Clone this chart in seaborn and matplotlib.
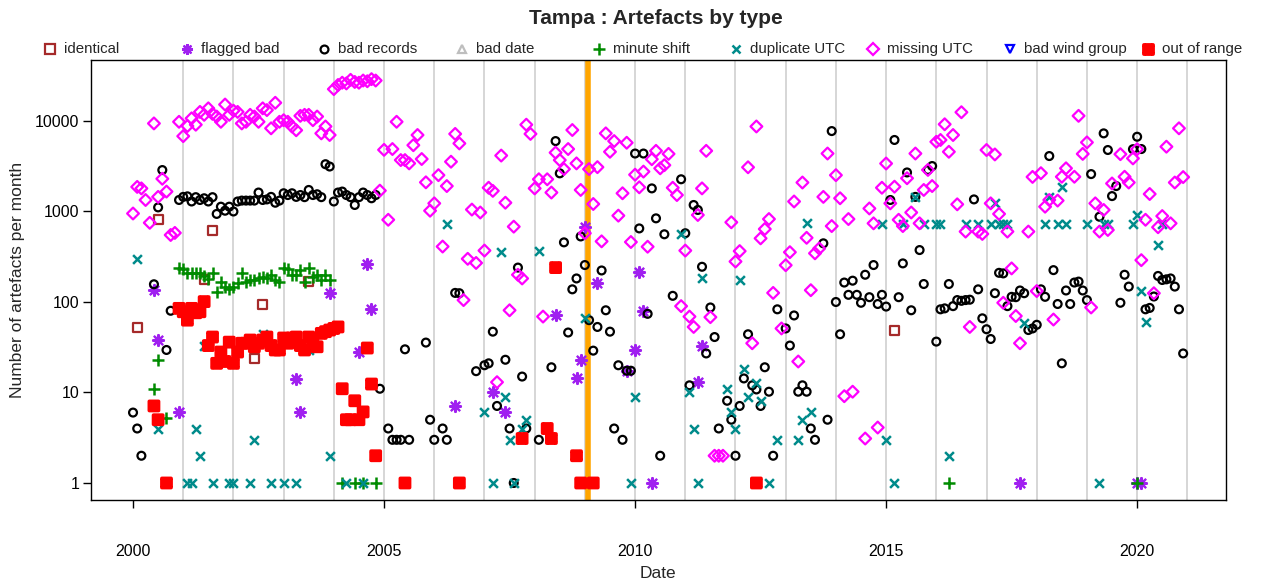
import numpy as np
import pandas as pd
import matplotlib
matplotlib.use("Agg")
import matplotlib.pyplot as plt
import seaborn as sns
from matplotlib.path import Path
from matplotlib.lines import Line2D

N = None

# ---------------- data (monthly values) ----------------
# dense series: one row of 12 monthly values per year, starting in 2000
missing_utc = [
    [950, 1870, 1800, 1340, 750, 9400, 1450, 2300, 1660, 550, 580, 9800],
    [6800, 8800, 10700, 9100, 12600, 11700, 13800, 12000, 11200, 9800, 15200, 11700],
    [13000, 12600, 9400, 9800, 11700, 11200, 9800, 13800, 13200, 8300, 15900, 9800],
    [10200, 9800, 8700, 7900, 11400, 11700, 11700, 10200, 11200, 7300, 8700, 7000],
    [22500, 25000, 26500, 26000, 28500, 27000, 26500, 28000, 27500, 29000, 28000, 1700],
    [4800, 810, 4900, 9800, 3700, 3700, 3400, 5400, 7000, 3800, 2100, 1020],
    [1230, 2520, 410, 1910, 3550, 7200, 5650, 105, 300, 1050, 270, 975],
    [370, 1830, 1690, 13, 4150, 1250, 81, 680, 200, 182, 9100, 7200],
    [1800, 2270, 69, 2270, 1620, 4470, 3700, 2940, 4900, 7950, 3400, 1730],
    [575, 2940, 1210, 3090, 468, 7300, 4570, 6000, 900, 1590, 5750, 460],
    [2550, 1850, 2760, 408, 3780, 4680, 3000, 3250, 4330, 1830, 1520, 90],
    [370, 69, 53, 915, 1800, 4680, 68, 2, 2, 2, N, 760],
    [280, 365, N, 3080, 35, 8700, 505, 640, 825, 126, N, 51],
    [255, 355, 1290, 22, 2090, 512, 135, 345, 390, 1450, 4370, 690],
    [2520, 1400, 9.1, 825, 10.2, N, N, 3.1, 1080, 740, 4.1, 1830],
    [3390, 1230, 1880, 810, 690, 2330, 975, 4370, 740, 1730, 2880, 1910],
    [5890, 6170, 9200, 4570, 7000, 1200, 12500, 600, 53, N, 600, 565],
    [4780, 1230, 4270, 940, 98, 600, 235, 70, 35, N, 600, 2410],
    [132, 2650, 1130, 1340, 64, 1320, 2420, 3000, N, 2420, 11400, 4330],
    [5800, 87, 1230, 600, 1040, 625, 2040, N, 4300, 2420, 2090, 3860],
    [4880, 290, 810, 1560, 125, 670, 890, 5200, 740, 2090, 8300, 2400],
]

bad_records = [
    [6, 4, 2, N, N, 157, 1110, 2870, 29.5, 80, N, 1340],
    [1450, 1470, 1290, 1440, 1340, 1400, 1290, 1440, 940, 1130, 1020, 1130],
    [1000, 1290, 1320, 1320, 1320, 1320, 1620, 1340, 1360, 1450, 1250, 1320],
    [1590, 1520, 1590, 1450, 1520, 1440, 1730, 1520, 1550, 1440, 3330, 3140],
    [1290, 1620, 1660, 1520, 1440, 1180, 1440, 1620, 1520, 1400, 1520, 11],
    [N, 4, 3, 3, 3, 30, 3, N, N, N, 35.6, 5],
    [3, N, 4, 3, N, 126, 125, N, N, N, 17.2, N],
    [20, 21, 47, 7.1, N, 23, 4, 1, 240, 15, 4, N],
    [N, 3, N, N, 19, 6000, 2640, 456, 46, 138, 182, 530],
    [256, 63, 29, 53, 223, 81, 47, 4, 20, 3, 17.4, 17.4],
    [4370, 650, 4370, 74, 1800, 840, 2, 560, N, 117, N, 2270],
    [575, 12, 1180, 1040, 245, 27, 87, 41, 4, N, 8.1, 5],
    [2, 7.1, 14.3, 44, 12, 10.8, 7.1, 19, 10.2, 2, 83, N],
    [51, 33, 71, 10.2, 12, 10.2, 4, 3, N, 445, 5, 7740],
    [100, 44, 164, 120, 172, 120, 98, 200, 113, 256, 95, 120],
    [89, 1340, 6170, 113, 267, 2700, 81, 1450, 375, 158, 2880, 3180],
    [36.5, 83, 85, 158, 90, 105, 103, 105, 106, 1360, 138, 66],
    [50, 39, 125, 210, 207, 90, 114, 113, 134, 125, 49, 51],
    [56, 138, 114, 4100, 225, 95, 21, 134, 95, 164, 168, 134],
    [105, 2590, N, 875, 7300, 4780, 1480, 1910, 98, 200, 148, 4880],
    [6700, 4900, 83, 86, 115, 194, 175, 178, 182, 148, 83, 27],
]

minute_shift = [
    [N, N, N, N, N, 11, 23, N, 5.2, N, N, 235],
    [229, 210, 207, 210, 207, 195, 178, 207, 130, 167, 148, 138],
    [148, 163, 207, 167, 175, 175, 182, 190, 182, 198, 175, 167],
    [235, 229, 198, 198, 225, 167, 240, 190, 198, 175, 198, 175],
    [N, N, 1, N, N, 1, N, 1, N, N, 1, N],
]
minute_shift_extra_dates = ["2016-04", "2020-01"]
minute_shift_extra_vals = [1, 1]

out_of_range = [
    [N, N, N, N, N, 7.1, 5, N, 1, N, N, 85],
    [78, 63, 85, 76, 78, 101, 33, 41, 21, 28, 22, 36],
    [21, 28, 35, 35, 38, 32, 35, 38, 41, 33, 29.5, 29.5],
    [40, 35, 40, 41, 33, 29.5, 41, 35, 32, 45, 47, 49],
    [51, 53, 11, 5, 5, 8.1, 5, 6.1, 31, 12.4, 2, N],
]
out_of_range_extra_dates = ["2005-06", "2006-07", "2007-10", "2008-04", "2008-05",
                            "2008-06", "2008-11", "2008-12", "2009-03", "2012-06"]
out_of_range_extra_vals = [1, 1, 3.1, 4, 3.1, 240, 2, 1, 1, 1]

# sparse series
identical_dates = ["2000-02", "2000-07", "2001-06", "2001-08", "2002-06", "2002-08",
                   "2003-07", "2015-03"]
identical_vals = [52, 815, 178, 615, 24, 94, 167, 48]

flagged_bad_dates = ["2000-06", "2000-07", "2000-12", "2003-04", "2003-05", "2003-12",
                     "2004-07", "2004-09", "2004-10", "2006-06", "2007-03", "2007-06",
                     "2008-06", "2008-11", "2008-12", "2009-01", "2009-04", "2009-11",
                     "2010-01", "2010-02", "2010-03", "2010-05", "2011-04", "2011-05",
                     "2017-09", "2020-01", "2020-02"]
flagged_bad_vals = [135, 38, 6.1, 14, 6.1, 126, 28, 263, 83, 7.1, 10.2, 6.1,
                    72, 14.4, 23, 675, 162, 17.4, 29.5, 215, 80, 1, 13.2, 33,
                    1, 1, 1]

duplicate_utc_dates = ["2000-02", "2000-07", "2001-02", "2001-03", "2001-04", "2001-05",
                       "2001-06", "2001-08", "2001-12", "2002-01", "2002-05", "2002-06",
                       "2002-08", "2002-10", "2003-01", "2003-04", "2003-07", "2003-12",
                       "2004-04", "2004-08", "2006-04", "2007-01", "2007-03", "2007-05",
                       "2007-06", "2007-07", "2007-08", "2007-10", "2007-11", "2008-02",
                       "2009-01", "2009-12", "2010-01", "2010-12", "2011-02", "2011-03",
                       "2011-04", "2011-05", "2011-11", "2011-12", "2012-01", "2012-02",
                       "2012-03", "2012-04", "2012-06", "2012-07", "2012-09", "2012-11",
                       "2013-04", "2013-05", "2013-06", "2013-07", "2014-12", "2015-01",
                       "2015-03", "2015-05", "2015-08", "2015-10", "2016-01", "2016-02",
                       "2016-04", "2016-08", "2016-11", "2017-02", "2017-03", "2017-04",
                       "2017-05", "2017-06", "2017-10", "2018-03", "2018-04", "2018-06",
                       "2018-07", "2018-08", "2019-01", "2019-04", "2019-05", "2019-06",
                       "2019-12", "2020-01", "2020-02", "2020-03", "2020-06", "2020-07"]
duplicate_utc_vals = [302, 4, 1, 1, 4, 2,
                      33, 1, 1, 1, 1, 3,
                      44, 1, 1, 1, 29.5, 2,
                      1, 1, 730, 6.1, 1, 360,
                      9, 3, 1, 4, 5, 370,
                      67, 1, 9, 565, 10.2, 4,
                      1, 182, 11, 6.1, 4, 175,
                      18, 9, 12.6, 8.1, 1, 3,
                      3, 5, 740, 6.1, 725, 3,
                      1, 725, 1450, 725, 725, 725,
                      2, 725, 725, 725, 1230, 725,
                      725, 725, 58, 725, 1450, 725,
                      1850, 725, 725, 1, 725, 725,
                      725, 915, 133, 60, 426, 725]

bad_date_dates, bad_date_vals = [], []
bad_wind_dates, bad_wind_vals = [], []

year_grid = list(range(2001, 2022))
x_ticks = [2000, 2005, 2010, 2015, 2020]
y_ticks = [1, 10, 100, 1000, 10000]
y_ticklabels = ["1", "10", "100", "1000", "10000"]
marker_date = 2009.06


def dense_frame(rows, first_year=2000):
    xs, ys = [], []
    for yi, row in enumerate(rows):
        for mi, v in enumerate(row):
            if v is not None:
                xs.append(first_year + yi + mi / 12.0)
                ys.append(v)
    return pd.DataFrame({"date": xs, "n": ys})


def sparse_frame(dates, vals):
    xs = [int(d[:4]) + (int(d[5:7]) - 1) / 12.0 for d in dates]
    return pd.DataFrame({"date": xs, "n": vals})


df_identical = sparse_frame(identical_dates, identical_vals)
df_flagged = sparse_frame(flagged_bad_dates, flagged_bad_vals)
df_badrec = dense_frame(bad_records)
df_minute = pd.concat([dense_frame(minute_shift),
                       sparse_frame(minute_shift_extra_dates, minute_shift_extra_vals)])
df_dup = sparse_frame(duplicate_utc_dates, duplicate_utc_vals)
df_missing = dense_frame(missing_utc)
df_oor = pd.concat([dense_frame(out_of_range),
                    sparse_frame(out_of_range_extra_dates, out_of_range_extra_vals)])

# ---------------- styling ----------------
sns.set_style("white")
plt.rcParams["font.family"] = ["Liberation Sans", "DejaVu Sans"]

box_x = Path([(-1, -1), (1, -1), (1, 1), (-1, 1), (-1, -1), (1, 1), (-1, 1), (1, -1)],
             [Path.MOVETO, Path.LINETO, Path.LINETO, Path.LINETO, Path.CLOSEPOLY,
              Path.LINETO, Path.MOVETO, Path.LINETO])
asterisk = (8, 2, 0)

LW = 1.6
series = [
    # label, frame, marker, colour, open?, size, linewidth
    ("identical", df_identical, "s", "#A52A2A", True, 42, LW),
    ("flagged bad", df_flagged, asterisk, "#A020F0", False, 62, LW),
    ("bad records", df_badrec, "o", "black", True, 32, LW),
    ("bad date", None, "^", "#BEBEBE", True, 40, LW),
    ("minute shift", df_minute, "+", "#008B00", False, 66, 1.8),
    ("duplicate UTC", df_dup, "x", "#008B8B", False, 40, 1.8),
    ("missing UTC", df_missing, "D", "#FF00FF", True, 36, LW),
    ("bad wind group", None, "v", "#0000FF", True, 40, LW),
    ("out of range", df_oor, box_x, "#FF0000", True, 44, 2.6),
]

fig = plt.figure(figsize=(12.62, 5.88), dpi=100)
ax = fig.add_axes([91 / 1262, 88 / 588, 1135 / 1262, 440 / 588])

for yr in year_grid:
    ax.axvline(yr, color="#D3D3D3", lw=1.3, zorder=0.5)
ax.axvline(marker_date, color="#FFA500", lw=4.0, zorder=0.8)

for label, frame, mk, col, is_open, size, lw in series:
    if frame is None or len(frame) == 0:
        continue
    if is_open:
        sns.scatterplot(data=frame, x="date", y="n", ax=ax, marker=mk, s=size,
                        facecolor="none", edgecolor=col, linewidth=lw, zorder=3,
                        legend=False)
    else:
        sns.scatterplot(data=frame, x="date", y="n", ax=ax, marker=mk, s=size,
                        color=col, linewidth=lw, zorder=3, legend=False)

ax.set_yscale("log")
ax.set_xlim(1999.163, 2021.77)
ax.set_ylim(10 ** -0.188, 10 ** 4.674)
ax.set_xticks(x_ticks)
ax.set_xticklabels([str(t) for t in x_ticks])
ax.set_yticks(y_ticks)
ax.set_yticklabels(y_ticklabels)
ax.minorticks_off()
ax.yaxis.set_minor_locator(matplotlib.ticker.NullLocator())
ax.set_xlabel("")
ax.set_ylabel("")
ax.tick_params(axis="both", direction="out", length=5.5, width=1, color="black",
               labelsize=11.5, labelcolor="black")
ax.tick_params(axis="x", pad=26, bottom=True)
ax.tick_params(axis="y", pad=3, left=True)
for sp in ax.spines.values():
    sp.set_color("black")
    sp.set_linewidth(1.0)

fig.text(656 / 1262, 1 - 19 / 588, "Tampa : Artefacts by type", ha="center",
         va="center", fontsize=15, fontweight="bold")
fig.text(658 / 1262, 1 - 574 / 588, "Date", ha="center", va="center", fontsize=12.5)
fig.text(18 / 1262, 1 - 280 / 588, "Number of artefacts per month", ha="center",
         va="center", rotation=90, fontsize=12.5)

# legend row (placed manually, one entry per series)
leg_y = 1 - 49 / 588
for i, (label, frame, mk, col, is_open, size, lw) in enumerate(series):
    xm = (50 + 137.2 * i) / 1262
    ms = np.sqrt(size)
    if is_open:
        h = Line2D([xm], [leg_y], transform=fig.transFigure, marker=mk, markersize=ms,
                   markerfacecolor="none", markeredgecolor=col, markeredgewidth=lw,
                   linestyle="none")
    else:
        h = Line2D([xm], [leg_y], transform=fig.transFigure, marker=mk, markersize=ms,
                   color=col, markeredgewidth=lw, linestyle="none")
    fig.add_artist(h)
    fig.text(xm + 14 / 1262, leg_y, label, ha="left", va="center", fontsize=10.8)

fig.savefig("out.png", dpi=100)
